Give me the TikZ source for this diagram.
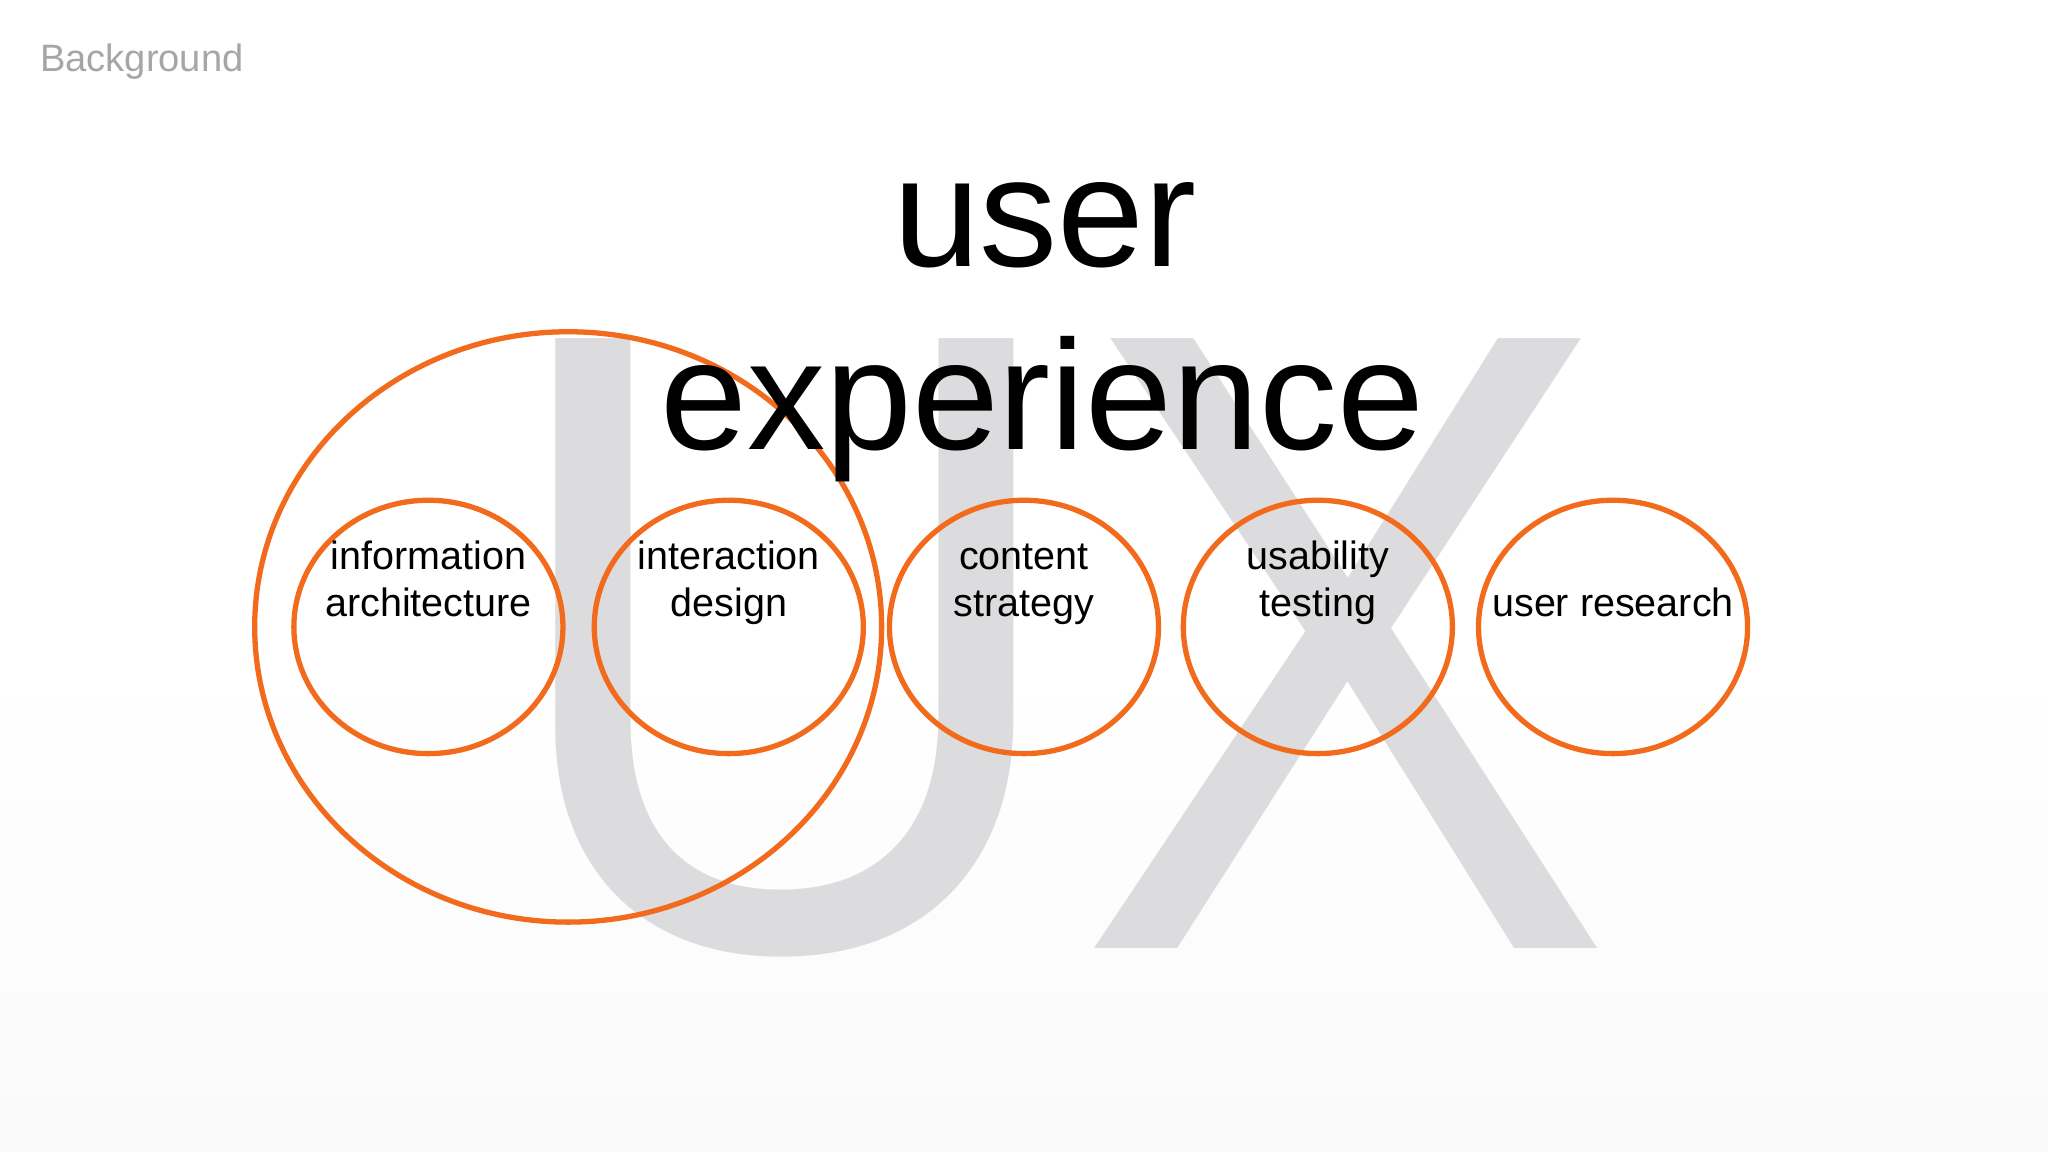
\documentclass[tikz,border=0pt]{standalone}
\usepackage{fontspec}
\setmainfont{Liberation Sans}
\definecolor{uxgray}{HTML}{DCDCDE}
\definecolor{ora}{HTML}{F26A1B}
\begin{document}
\begin{tikzpicture}[x=0.01cm,y=-0.01cm,
  ring/.style={draw=ora,line width=1.15pt},
  lbl/.style={anchor=base,inner sep=0pt,align=center,font=\fontsize{8.6pt}{10.2pt}\selectfont}]
\useasboundingbox (0,0) rectangle (1568,882);
\shade[top color=white,bottom color=black!2] (0,500) rectangle (1568,882);
\node[text=uxgray,anchor=base,inner sep=0pt,xscale=0.91,font=\fontsize{193pt}{193pt}\selectfont] (ux) at (807,726) {UX};
\draw[ring] (435,480) ellipse [x radius=240,y radius=226];
\foreach \n/\x in {a/328,b/558,c/784,d/1009,e/1235}
  \draw[ring] (\x,480) ellipse [x radius=103,y radius=97];
\node[lbl] (la) at (328,472) {information\\architecture};
\node[lbl] (lb) at (558,472) {interaction\\design};
\node[lbl] (lc) at (784,472) {content\\strategy};
\node[lbl] (ld) at (1009,472) {usability\\testing};
\node[lbl] (le) at (1235,472) {user research};
\node[anchor=base,inner sep=0pt,font=\fontsize{34pt}{34pt}\selectfont] (t1) at (800,204) {user};
\node[anchor=base,inner sep=0pt,font=\fontsize{34pt}{34pt}\selectfont] (t2) at (798,344) {experience};
\node[anchor=base west,inner sep=0pt,text=black!35,font=\fontsize{8.3pt}{8.3pt}\selectfont] (bg) at (30,55) {Background};
\end{tikzpicture}
\end{document}
